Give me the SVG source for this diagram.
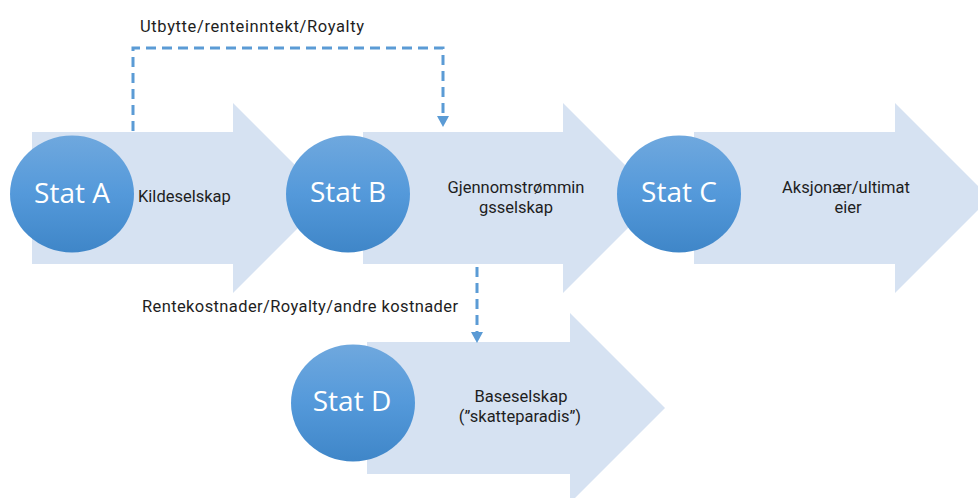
<svg xmlns="http://www.w3.org/2000/svg" width="978" height="498" viewBox="0 0 978 498">
  <defs>
    <linearGradient id="ballFill" x1="0" y1="0" x2="0" y2="1">
      <stop offset="0" stop-color="#6fa8de"/>
      <stop offset="0.5" stop-color="#5499da"/>
      <stop offset="1" stop-color="#3f86c8"/>
    </linearGradient>
    <marker id="tri" markerUnits="userSpaceOnUse" markerWidth="12" markerHeight="12" refX="0" refY="6" orient="auto" viewBox="0 0 12 12">
      <path d="M0,0 L11,6 L0,12 Z" fill="#5b9bd5"/>
    </marker>
    <style>
      .band { fill: #d6e2f2; }
      .ball { fill: url(#ballFill); }
      .state { font-family: "Open Sans", "Liberation Sans", sans-serif; font-size: 28px; fill: #ffffff; text-anchor: middle; }
      .role { font-family: Roboto, "Liberation Sans", sans-serif; font-size: 16.5px; fill: #1e1e1e; }
      .mid { text-anchor: middle; }
      .flow { fill: none; stroke: #5b9bd5; stroke-width: 3; stroke-dasharray: 10 6; marker-end: url(#tri); }
    </style>
  </defs>

  <!-- block arrows -->
  <g id="band-a"><path class="band" d="M32,132 H233 V103 L328,198 L233,293 V264 H32 Z"/></g>
  <g id="band-b"><path class="band" d="M363,132 H563 V103 L658,198 L563,293 V264 H363 Z"/></g>
  <g id="band-c"><path class="band" d="M694,132 H895 V103 L990,198 L895,293 V264 H694 Z"/></g>
  <g id="band-d"><path class="band" d="M367,342 H570 V313 L665,408 L570,503 V474 H367 Z"/></g>

  <!-- payment flows -->
  <g id="connectors">
    <path class="flow" d="M133,131 V48 H443 V116"/>
    <path class="flow" d="M477,267 V332"/>
    <text class="role" x="140" y="32" textLength="224">Utbytte/renteinntekt/Royalty</text>
    <text class="role" x="142" y="312" textLength="316">Rentekostnader/Royalty/andre kostnader</text>
  </g>

  <!-- states -->
  <g id="stat-a">
    <ellipse class="ball" cx="72" cy="194" rx="62" ry="58.5"/>
    <text class="state" x="72" y="203">Stat A</text>
    <text class="role" x="138" y="202">Kildeselskap</text>
  </g>
  <g id="stat-b">
    <ellipse class="ball" cx="348" cy="194" rx="62" ry="58.5"/>
    <text class="state" x="348" y="202">Stat B</text>
    <text class="role mid" y="193"><tspan x="516">Gjennomstrømmin</tspan><tspan x="516" dy="20">gsselskap</tspan></text>
  </g>
  <g id="stat-c">
    <ellipse class="ball" cx="679" cy="194" rx="62" ry="58.5"/>
    <text class="state" x="679" y="202">Stat C</text>
    <text class="role mid" y="193"><tspan x="846">Aksjonær/ultimat</tspan><tspan x="848" dy="20">eier</tspan></text>
  </g>
  <g id="stat-d">
    <ellipse class="ball" cx="353" cy="403" rx="62" ry="58.5"/>
    <text class="state" x="352" y="411">Stat D</text>
    <text class="role mid" y="402"><tspan x="521">Baseselskap</tspan><tspan x="520" dy="20">(”skatteparadis”)</tspan></text>
  </g>
</svg>
